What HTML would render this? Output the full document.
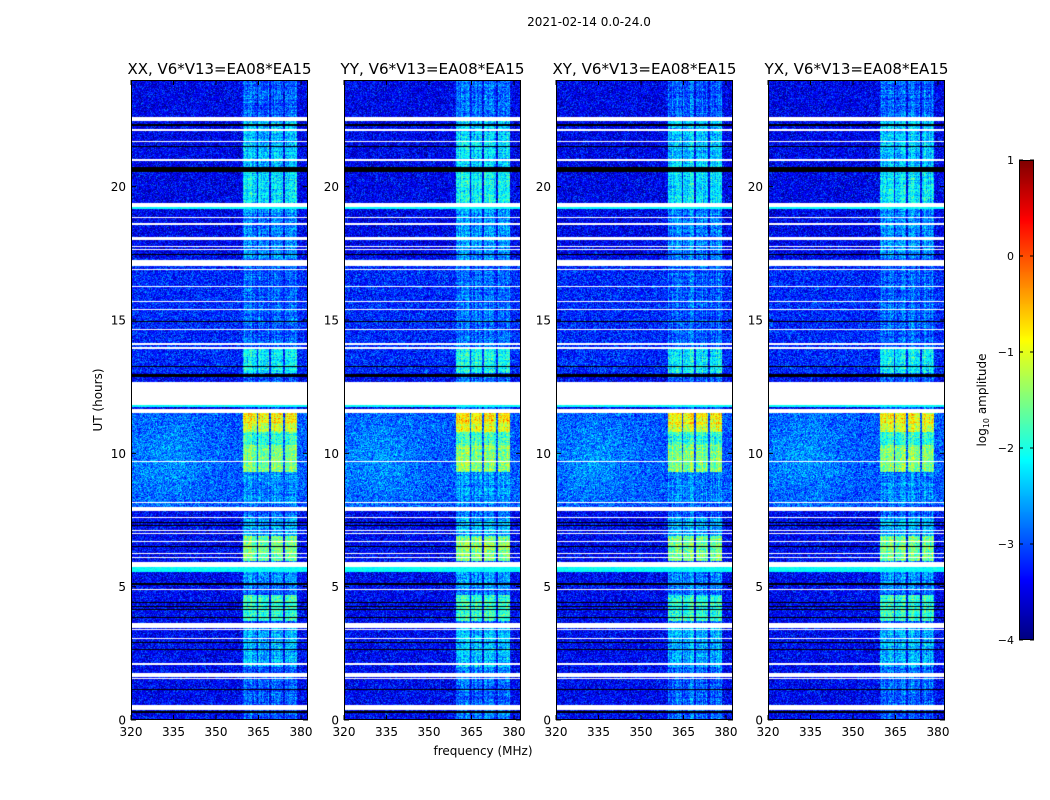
<!DOCTYPE html>
<html><head><meta charset="utf-8">
<style>
html,body{margin:0;padding:0;background:#fff;}
#wrap{position:relative;width:1050px;height:800px;overflow:hidden;background:#fff;}
canvas{position:absolute;}
svg{position:absolute;left:0;top:0;}
text{font-family:"DejaVu Sans","Liberation Sans",sans-serif;fill:#000;}
</style></head>
<body>
<div id="wrap">
<svg id="ov" width="1050" height="800"></svg>
</div>
<script>
// ---- data (hours, MHz, log10 amplitude) ----
const panelNames = ['XX','YY','XY','YX'];
const panelLefts = [131,344,556,768];
const hourTicks = [0,5,10,15,20];
const freqTicks = [320,335,350,365,380];
const cbarTicks = [1,0,-1,-2,-3,-4];
const whiteBands = [[22.55,22.6],[22.47,22.52],[22.08,22.17],[21.66,21.7],[20.98,21.02],[19.24,19.4],[18.81,18.85],[18.58,18.62],[18.0,18.12],[17.72,17.76],[17.64,17.68],[17.02,17.26],[16.89,16.93],[16.22,16.26],[15.66,15.7],[15.36,15.4],[14.61,14.65],[14.08,14.12],[13.93,13.97],[11.81,12.69],[11.5,11.67],[9.66,9.7],[8.12,8.16],[7.83,8.0],[7.56,7.6],[7.07,7.11],[6.99,7.03],[6.66,6.7],[6.21,6.25],[6.09,6.13],[5.74,5.94],[4.86,4.9],[3.44,3.65],[3.36,3.4],[3.02,3.06],[2.08,2.12],[1.6,1.77],[1.52,1.56],[0.37,0.57]];
const blackBands = [[22.29,22.34],[21.47,21.51],[20.54,20.75],[17.42,17.46],[14.94,14.98],[13.22,13.26],[12.85,12.99],[7.37,7.41],[7.26,7.3],[6.47,6.51],[5.08,5.12],[4.37,4.41],[4.22,4.26],[4.14,4.18],[3.81,3.85],[2.87,2.91],[2.64,2.68],[1.11,1.15],[0.28,0.32]];
const cyanBands = [[19.16,19.24],[11.74,11.81],[5.55,5.74]];
const bgSegments = [[17.3,24,-3.45],[13.0,17.3,-3.2],[8.0,11.5,-2.95],[0,8.0,-3.4]];
const rfiSegments = [[22.6,24,-2.9],[20.75,22.6,-2.4],[19.4,20.55,-2.2],[17.3,19.2,-2.7],[13.9,17.0,-2.9],[13.0,13.9,-2.15],[11.1,11.5,-0.85],[10.8,11.1,-1.1],[10.3,10.8,-1.9],[9.3,10.3,-1.5],[8.1,9.3,-2.7],[6.9,7.6,-2.5],[5.95,6.9,-1.55],[4.9,5.55,-2.7],[3.7,4.7,-1.9],[2.0,3.45,-2.5],[0,2.0,-2.9]];
const rfiChannels = [[359.5,364.4],[364.7,368.7],[369.4,373.6],[374.3,378.6]];

// ---- scales ----
const Y0=720, PXH=640/24, PXF=170/60, PW=177, PH=640;
function yScale(h){return Y0 - h*PXH;}
function xScale(left,f){return left + (f-320)*PXF;}
function inBands(h,arr){for(const b of arr){if(h>=b[0]&&h<b[1])return true;}return false;}
function segVal(h,arr,def){for(const s of arr){if(h>=s[0]&&h<s[1])return s[2];}return def;}
function jet(v){let t=(v+4)/5;t=Math.max(0,Math.min(1,t));
 const c=x=>Math.round(255*Math.max(0,Math.min(1,x)));
 return [c(1.5-Math.abs(4*t-3)),c(1.5-Math.abs(4*t-2)),c(1.5-Math.abs(4*t-1))];}
function hash(a,b,c){let x=(a*374761393+b*668265263+c*2147483647)|0;x=(x^(x>>>13))*1274126177|0;x=x^(x>>>16);return (x>>>0)/4294967296;}

const wrap=document.getElementById('wrap');
const ov=document.getElementById('ov');
const NS='http://www.w3.org/2000/svg';
function mk(tag,attrs,parent){const e=document.createElementNS(NS,tag);for(const k in attrs)e.setAttribute(k,attrs[k]);(parent||ov).appendChild(e);return e;}

panelNames.forEach((name,pi)=>{
  const left=panelLefts[pi];
  const cv=document.createElement('canvas');
  cv.width=PW;cv.height=PH;cv.style.left=left+'px';cv.style.top='80px';
  
  
  wrap.insertBefore(cv,ov);
  const ctx=cv.getContext('2d');const img=ctx.createImageData(PW,PH);
  for(let py=0;py<PH;py++){
    const h=(PH-py-0.5)/PXH;
    const white=inBands(h,whiteBands), black=inBands(h,blackBands), cyan=inBands(h,cyanBands);
    const bg=segVal(h,bgSegments,-3.4), rf=segVal(h,rfiSegments,-2.9);
    const rowVar=(hash(py,3,pi+11)-0.5)*0.35;
    for(let px=0;px<PW;px++){
      const f=320+(px+0.5)/PXF;let col;
      if(white)col=[255,255,255];
      else if(black)col=[0,0,0];
      else{
        const n=(hash(px,py,pi)+hash(py,px,pi+7)-1)*0.75;
        let v=bg+n;
        if(cyan)v=-2.1+n*0.3;
        else{
          if(h>=8&&h<11.5){const dx=(f-333)/14,dy=(h-9.8)/1.5;v+=0.3*Math.exp(-(dx*dx+dy*dy));}
          for(const c of rfiChannels){if(f>=c[0]&&f<c[1]){
            const colVar=(hash(px,5,pi+3)-0.5)*0.5;
            v=rf+n*0.9+colVar+rowVar;break;}}
        }
        col=jet(v);
      }
      const i=(py*PW+px)*4;img.data[i]=col[0];img.data[i+1]=col[1];img.data[i+2]=col[2];img.data[i+3]=255;
    }
  }
  ctx.putImageData(img,0,0);
  const fr=mk('rect',{x:left+0.5,y:80.5,width:PW-1,height:PH-1,fill:'none',stroke:'#000','stroke-width':1});
  
  
  const tt=mk('text',{x:left+PW/2,y:74,'text-anchor':'middle','font-size':15,textLength:184,lengthAdjust:'spacingAndGlyphs'});
  tt.textContent=name+', V6*V13=EA08*EA15';
  
  
  hourTicks.forEach(hv=>{
    const y=yScale(hv);
    mk('line',{x1:left,x2:left+5,y1:y,y2:y,stroke:'#000'});
    mk('line',{x1:left+PW-5,x2:left+PW,y1:y,y2:y,stroke:'#000'});
    const t=mk('text',{x:left-5,y:y+4.5,'text-anchor':'end','font-size':12});
    t.textContent=hv;
    
    
  });
  freqTicks.forEach(fv=>{
    const x=xScale(left,fv);
    mk('line',{x1:x,x2:x,y1:720,y2:715,stroke:'#000'});
    mk('line',{x1:x,x2:x,y1:80,y2:85,stroke:'#000'});
    const t=mk('text',{x:x,y:736,'text-anchor':'middle','font-size':12});
    t.textContent=fv;
    
    
  });
});

let e=mk('text',{x:589,y:26,'text-anchor':'middle','font-size':12});e.textContent='2021-02-14 0.0-24.0';


e=mk('text',{x:483,y:755,'text-anchor':'middle','font-size':12});e.textContent='frequency (MHz)';


e=mk('text',{x:0,y:0,'text-anchor':'middle','font-size':12,transform:'translate(102,400) rotate(-90)'});e.textContent='UT (hours)';



const cb=document.createElement('canvas');cb.width=15;cb.height=480;cb.style.left='1019px';cb.style.top='160px';


wrap.insertBefore(cb,ov);
const cctx=cb.getContext('2d');
for(let py=0;py<480;py++){const v=1-(py+0.5)/96;const c=jet(v);cctx.fillStyle='rgb('+c.join(',')+')';cctx.fillRect(0,py,15,1);}
mk('rect',{x:1019.5,y:160.5,width:14,height:479,fill:'none',stroke:'#000'});
cbarTicks.forEach(v=>{
  const y=160+(1-v)*96;
  mk('line',{x1:1019,x2:1023,y1:y,y2:y,stroke:'#000'});
  mk('line',{x1:1030,x2:1034,y1:y,y2:y,stroke:'#000'});
  const t=mk('text',{x:1014,y:y+4,'text-anchor':'end','font-size':11});
  t.textContent=v<0?'\u2212'+(-v):String(v);
  
  
});
e=mk('text',{x:0,y:0,'text-anchor':'middle','font-size':12,transform:'translate(986,400) rotate(-90)'});
e.innerHTML='log<tspan font-size="8" dy="3">10</tspan><tspan dy="-3"> amplitude</tspan>';


</script>
</body></html>
